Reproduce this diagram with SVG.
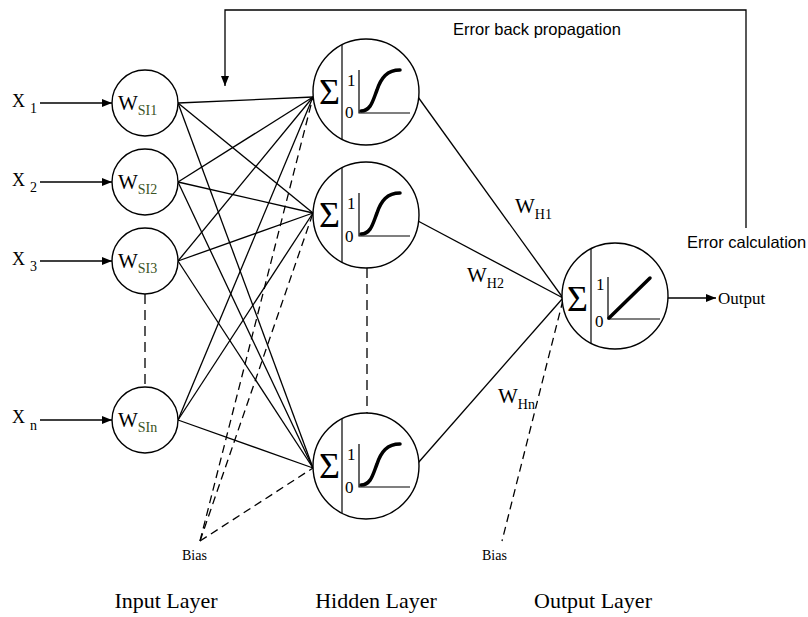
<svg xmlns="http://www.w3.org/2000/svg" width="808" height="617" viewBox="0 0 808 617">
<style>
.ln{stroke:#000;stroke-width:1.3;fill:none}
.dash{stroke-dasharray:8 5}
.nd{fill:#fff;stroke:#000;stroke-width:1.4}
.ax{stroke:#000;stroke-width:1.2;fill:none}
.curve{stroke:#000;stroke-width:3.5;fill:none;stroke-linecap:round}
.tm{font-family:"Liberation Serif","Times New Roman",serif;fill:#000}
.ar{font-family:"Liberation Sans",Arial,sans-serif;fill:#000;font-size:16.5px}
.sig{font-size:36px}
.num{font-size:17px}
.sub{font-size:14px;fill:#3b5323}
</style>
<defs>
<marker id="arr" markerUnits="userSpaceOnUse" markerWidth="10" markerHeight="8" refX="10" refY="4" orient="auto">
<path d="M0,0 L10,4 L0,8 z" fill="#000"/>
</marker>
</defs>
<rect width="808" height="617" fill="#fff"/>

<g id="connectors">
<line class="ln" x1="40" y1="103" x2="112" y2="103" marker-end="url(#arr)"/>
<line class="ln" x1="40" y1="182" x2="112" y2="182" marker-end="url(#arr)"/>
<line class="ln" x1="40" y1="261" x2="112" y2="261" marker-end="url(#arr)"/>
<line class="ln" x1="40" y1="420" x2="112" y2="420" marker-end="url(#arr)"/>
<line class="ln" x1="178" y1="103" x2="313" y2="97"/>
<line class="ln" x1="178" y1="103" x2="313" y2="213"/>
<line class="ln" x1="178" y1="103" x2="313" y2="468"/>
<line class="ln" x1="178" y1="182" x2="313" y2="97"/>
<line class="ln" x1="178" y1="182" x2="313" y2="213"/>
<line class="ln" x1="178" y1="182" x2="313" y2="468"/>
<line class="ln" x1="178" y1="261" x2="313" y2="97"/>
<line class="ln" x1="178" y1="261" x2="313" y2="213"/>
<line class="ln" x1="178" y1="261" x2="313" y2="468"/>
<line class="ln" x1="178" y1="420" x2="313" y2="97"/>
<line class="ln" x1="178" y1="420" x2="313" y2="213"/>
<line class="ln" x1="178" y1="420" x2="313" y2="468"/>
<line class="ln dash" x1="200" y1="541" x2="313" y2="97"/>
<line class="ln dash" x1="200" y1="541" x2="313" y2="213"/>
<line class="ln dash" x1="200" y1="541" x2="313" y2="468"/>
<line class="ln" x1="145" y1="294" x2="145" y2="387" stroke-dasharray="10 6"/>
<line class="ln" x1="367" y1="268" x2="367" y2="413" stroke-dasharray="10 6"/>
<line class="ln" x1="418" y1="97" x2="563" y2="298"/>
<line class="ln" x1="418" y1="221" x2="563" y2="298"/>
<line class="ln" x1="418" y1="463" x2="563" y2="298"/>
<line class="ln dash" x1="563" y1="300" x2="502" y2="541"/>
<line class="ln" x1="668" y1="298" x2="716" y2="298" marker-end="url(#arr)"/>
<polyline class="ln" points="746,228 746,10 225,10 225,86" marker-end="url(#arr)"/>
</g>

<g id="x-labels" class="tm">
<text x="12" y="107" font-size="18">X<tspan x="30" y="113" font-size="14">1</tspan></text>
<text x="12" y="186" font-size="18">X<tspan x="30" y="192" font-size="14">2</tspan></text>
<text x="12" y="265" font-size="18">X<tspan x="30" y="271" font-size="14">3</tspan></text>
<text x="12" y="423" font-size="18">X<tspan x="30" y="430" font-size="14">n</tspan></text>
</g>

<g id="in1"><circle class="nd" cx="145" cy="103" r="33"/><text class="tm" x="118" y="110" font-size="21">W<tspan class="sub" dy="5">SI1</tspan></text></g>
<g id="in2"><circle class="nd" cx="145" cy="182" r="33"/><text class="tm" x="118" y="189" font-size="21">W<tspan class="sub" dy="5">SI2</tspan></text></g>
<g id="in3"><circle class="nd" cx="145" cy="261" r="33"/><text class="tm" x="118" y="268" font-size="21">W<tspan class="sub" dy="5">SI3</tspan></text></g>
<g id="inN"><circle class="nd" cx="145" cy="420" r="33"/><text class="tm" x="118" y="427" font-size="21">W<tspan class="sub" dy="5">SIn</tspan></text></g>

<g id="hid1">
<circle class="nd" cx="366" cy="92" r="53"/>
<line class="ax" x1="342" y1="45" x2="342" y2="139"/>
<text class="tm sig" x="319" y="104">Σ</text>
<text class="tm num" x="347" y="86">1</text>
<text class="tm num" x="345" y="118">0</text>
<polyline class="ax" points="359,70 359,113 410,113"/>
<path class="curve" d="M361,111 C371,111 373,100 377,90 C381,78 387,70 400,70"/>
</g>
<g id="hid2">
<circle class="nd" cx="366" cy="215" r="53"/>
<line class="ax" x1="342" y1="168" x2="342" y2="262"/>
<text class="tm sig" x="319" y="227">Σ</text>
<text class="tm num" x="347" y="209">1</text>
<text class="tm num" x="345" y="242">0</text>
<polyline class="ax" points="359,193 359,236 410,236"/>
<path class="curve" d="M361,234 C371,234 373,223 377,213 C381,201 387,193 400,193"/>
</g>
<g id="hid3">
<circle class="nd" cx="366" cy="466" r="53"/>
<line class="ax" x1="342" y1="419" x2="342" y2="513"/>
<text class="tm sig" x="319" y="478">Σ</text>
<text class="tm num" x="347" y="460">1</text>
<text class="tm num" x="345" y="493">0</text>
<polyline class="ax" points="359,444 359,487 410,487"/>
<path class="curve" d="M361,485 C371,485 373,474 377,464 C381,452 387,444 400,444"/>
</g>

<g id="out">
<circle class="nd" cx="615" cy="296" r="53"/>
<line class="ax" x1="591" y1="249" x2="591" y2="343"/>
<text class="tm sig" x="567" y="311">Σ</text>
<text class="tm num" x="596" y="290">1</text>
<text class="tm num" x="595" y="327">0</text>
<polyline class="ax" points="608,277 608,319 660,319"/>
<line class="curve" x1="609" y1="318" x2="650" y2="278"/>
</g>

<g id="labels">
<text class="tm" x="515" y="213" font-size="21">W<tspan font-size="14" dy="6">H1</tspan></text>
<text class="tm" x="467" y="282" font-size="21">W<tspan font-size="14" dy="6">H2</tspan></text>
<text class="tm" x="498" y="403" font-size="21">W<tspan font-size="14" dy="6">Hn</tspan></text>
<text class="tm" x="718" y="304" font-size="17">Output</text>
<text class="tm" x="182" y="560" font-size="14">Bias</text>
<text class="tm" x="482" y="560" font-size="14">Bias</text>
<text class="ar" x="453" y="35">Error back propagation</text>
<text class="ar" x="687" y="248">Error calculation</text>
<text class="tm" x="166" y="608" font-size="22" text-anchor="middle">Input Layer</text>
<text class="tm" x="376" y="608" font-size="22" text-anchor="middle">Hidden Layer</text>
<text class="tm" x="593" y="608" font-size="22" text-anchor="middle">Output Layer</text>
</g>
</svg>
